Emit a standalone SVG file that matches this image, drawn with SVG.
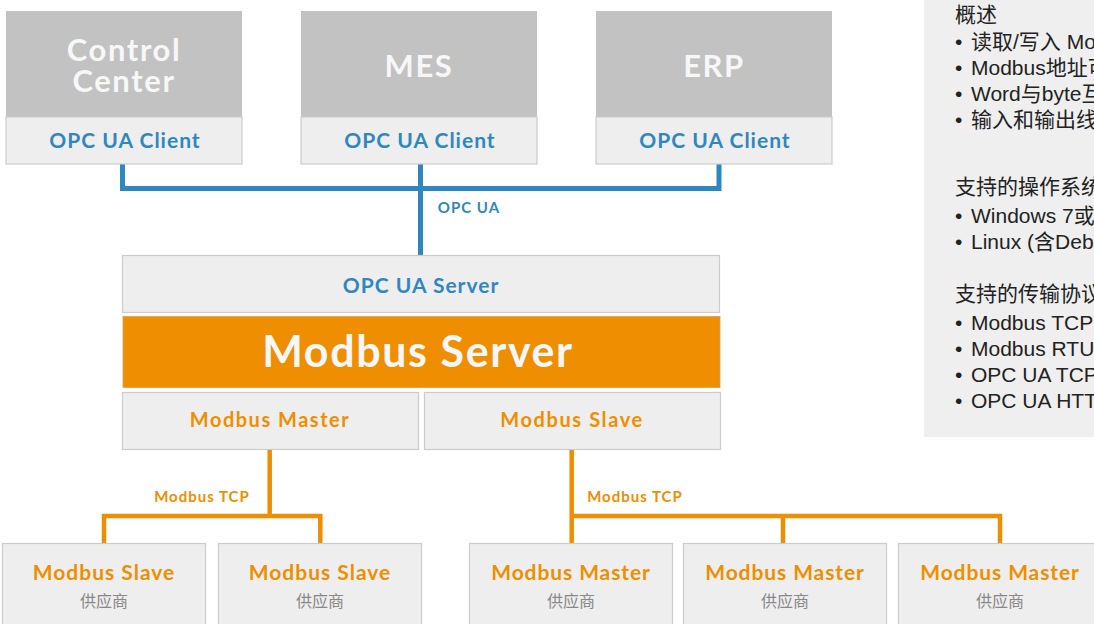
<svg xmlns="http://www.w3.org/2000/svg" width="1094" height="624" viewBox="0 0 1094 624">
<style>
.hdr{fill:#c2c2c2}
.box{fill:#eeeeee;stroke:#cccccc;stroke-width:1.2}
.big{font-family:Lato,"Open Sans","Noto Sans",sans-serif;font-weight:bold;fill:#f7f7f7;text-anchor:middle}
.blue{font-family:Lato,"Open Sans","Noto Sans",sans-serif;font-weight:bold;fill:#2f87c2;text-anchor:middle}
.org{font-family:Lato,"Open Sans","Noto Sans",sans-serif;font-weight:bold;fill:#ee8e00;text-anchor:middle}
.sup{font-family:"Noto Sans CJK SC",sans-serif;font-size:16px;fill:#888888;text-anchor:middle}
.bl{fill:none;stroke:#2f87c2;stroke-width:5}
.ol{fill:none;stroke:#ee8e00;stroke-width:4.5}
.pt{font-family:"Liberation Sans","Noto Sans CJK SC",sans-serif;font-size:21px;fill:#222222}
</style>
<rect width="1094" height="624" fill="#ffffff"/>

<g id="panel">
<rect x="924" y="0" width="172" height="437" fill="#efefef"/>
<text class="pt" x="955" y="22">概述</text>
<text class="pt" x="955" y="49">•</text><text class="pt" x="971" y="49">读取/写入 Mo</text>
<text class="pt" x="955" y="75">•</text><text class="pt" x="971" y="75">Modbus地址可</text>
<text class="pt" x="955" y="101">•</text><text class="pt" x="971" y="101">Word与byte互</text>
<text class="pt" x="955" y="127">•</text><text class="pt" x="971" y="127">输入和输出线</text>
<text class="pt" x="955" y="194">支持的操作系统</text>
<text class="pt" x="955" y="223">•</text><text class="pt" x="971" y="223">Windows 7或</text>
<text class="pt" x="955" y="249">•</text><text class="pt" x="971" y="249">Linux (含Deb</text>
<text class="pt" x="955" y="301">支持的传输协议</text>
<text class="pt" x="955" y="330">•</text><text class="pt" x="971" y="330">Modbus TCP</text>
<text class="pt" x="955" y="356">•</text><text class="pt" x="971" y="356">Modbus RTU</text>
<text class="pt" x="955" y="382">•</text><text class="pt" x="971" y="382">OPC UA TCP</text>
<text class="pt" x="955" y="408">•</text><text class="pt" x="971" y="408">OPC UA HTTP</text>
</g>

<g id="connectors">
<path class="bl" d="M122.5 164 V188.5 H719 V164 M420.5 164 V255"/>
<text class="blue" x="469" y="213" font-size="15" letter-spacing="1">OPC UA</text>
<path class="ol" d="M269.7 450 V516 M104 543 V516 H320.3 V543"/>
<text class="org" x="202" y="502" font-size="15" letter-spacing="1">Modbus TCP</text>
<path class="ol" d="M571.7 450 V543 M571.7 516 H1000 V543 M783 516 V543"/>
<text class="org" x="635" y="502" font-size="15" letter-spacing="1">Modbus TCP</text>
</g>

<g id="control-center">
<rect class="hdr" x="6" y="11" width="236" height="106"/>
<rect class="box" x="6" y="117" width="236" height="47"/>
<text class="big" x="124" y="61" font-size="31" letter-spacing="1.6">Control</text>
<text class="big" x="124" y="92" font-size="31" letter-spacing="1.6">Center</text>
<text class="blue" x="125" y="148" font-size="21" letter-spacing="1">OPC UA Client</text>
</g>
<g id="mes">
<rect class="hdr" x="301" y="11" width="236" height="106"/>
<rect class="box" x="301" y="117" width="236" height="47"/>
<text class="big" x="419" y="77" font-size="31" letter-spacing="1.6">MES</text>
<text class="blue" x="420" y="148" font-size="21" letter-spacing="1">OPC UA Client</text>
</g>
<g id="erp">
<rect class="hdr" x="596" y="11" width="236" height="106"/>
<rect class="box" x="596" y="117" width="236" height="47"/>
<text class="big" x="714" y="77" font-size="31" letter-spacing="1.6">ERP</text>
<text class="blue" x="715" y="148" font-size="21" letter-spacing="1">OPC UA Client</text>
</g>

<g id="opc-ua-server">
<rect class="box" x="122.5" y="255.5" width="597" height="57"/>
<text class="blue" x="421" y="293" font-size="21" letter-spacing="1">OPC UA Server</text>
</g>
<g id="modbus-server">
<rect x="123" y="316.5" width="597" height="71" fill="#ee8e00" stroke="#d9a050" stroke-width="0.8"/>
<text class="big" x="418" y="367" font-size="43" fill="#ffffff" letter-spacing="1.6">Modbus Server</text>
</g>
<g id="modbus-master">
<rect class="box" x="122.5" y="392.5" width="296" height="57"/>
<text class="org" x="270" y="427" font-size="20" letter-spacing="1.5">Modbus Master</text>
</g>
<g id="modbus-slave">
<rect class="box" x="424.5" y="392.5" width="296" height="57"/>
<text class="org" x="572" y="427" font-size="20" letter-spacing="1.6">Modbus Slave</text>
</g>

<g id="slave-1">
<rect class="box" x="2.5" y="543.5" width="203" height="90"/>
<text class="org" x="104" y="580" font-size="21" letter-spacing="1">Modbus Slave</text>
<text class="sup" x="104" y="607">供应商</text>
</g>
<g id="slave-2">
<rect class="box" x="218.5" y="543.5" width="203" height="90"/>
<text class="org" x="320" y="580" font-size="21" letter-spacing="1">Modbus Slave</text>
<text class="sup" x="320" y="607">供应商</text>
</g>
<g id="master-1">
<rect class="box" x="469.5" y="543.5" width="203" height="90"/>
<text class="org" x="571" y="580" font-size="21" letter-spacing="0.9">Modbus Master</text>
<text class="sup" x="571" y="607">供应商</text>
</g>
<g id="master-2">
<rect class="box" x="683.5" y="543.5" width="203" height="90"/>
<text class="org" x="785" y="580" font-size="21" letter-spacing="0.9">Modbus Master</text>
<text class="sup" x="785" y="607">供应商</text>
</g>
<g id="master-3">
<rect class="box" x="898.5" y="543.5" width="203" height="90"/>
<text class="org" x="1000" y="580" font-size="21" letter-spacing="0.9">Modbus Master</text>
<text class="sup" x="1000" y="607">供应商</text>
</g>
</svg>
